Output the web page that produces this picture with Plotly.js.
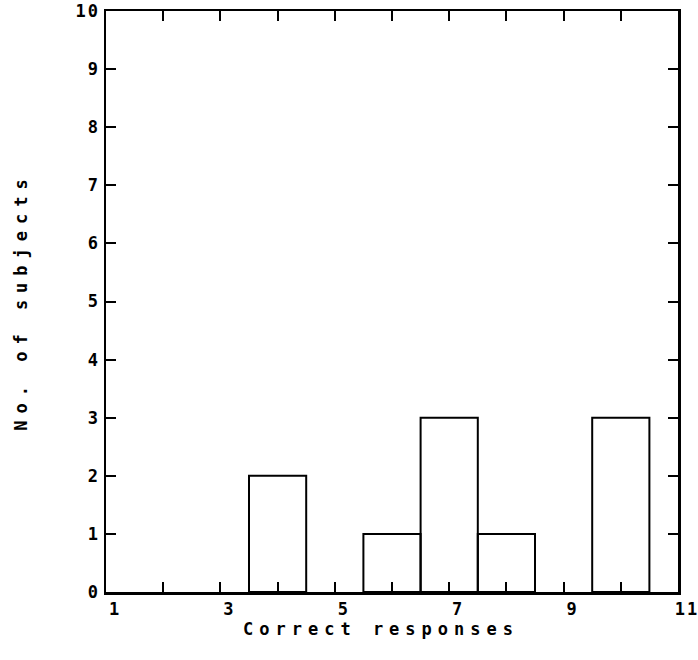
<!DOCTYPE html>
<html>
<head>
<meta charset="utf-8">
<script src="https://cdn.plot.ly/plotly-3.0.1.min.js"></script>
<style>
  html, body { margin: 0; padding: 0; background: #fff; }
  #chart { width: 698px; height: 660px; }
  .xtitle { letter-spacing: 6px; transform: translateX(-11px); }
  .ytitle { letter-spacing: 7px; }
  .xtick text, .ytick text { letter-spacing: 2px; }
</style>
</head>
<body>
<div id="chart"></div>
<script>
// Data
const correctResponses = [4, 6, 7, 8, 10];
const numSubjects = [2, 1, 3, 1, 3];
const xTickVals = [1, 2, 3, 4, 5, 6, 7, 8, 9, 10, 11];
const xTickText = ['1', '', '3', '', '5', '', '7', '', '9', '', '11'];
const yTickVals = [0, 1, 2, 3, 4, 5, 6, 7, 8, 9, 10];
const yTickText = ['0', '1', '2', '3', '4', '5', '6', '7', '8', '9', '10'];
const xTitle = 'Correct responses';
const yTitle = 'No. of subjects';

const fam = 'DejaVu Sans Mono, monospace';

const trace = {
  type: 'bar',
  x: correctResponses,
  y: numSubjects,
  width: 1,
  marker: { color: 'rgba(255,255,255,0)', line: { color: '#000', width: 2 } },
  hoverinfo: 'skip'
};

const axisCommon = {
  tickmode: 'array',
  ticks: 'inside',
  ticklen: 10,
  tickwidth: 2,
  tickcolor: '#000',
  showline: true,
  linewidth: 2.5,
  linecolor: '#000',
  mirror: 'ticks',
  showgrid: false,
  zeroline: false,
  automargin: false,
  tickfont: { family: fam, size: 17, color: '#000', weight: 'bold' }
};

const layout = {
  width: 698,
  height: 660,
  margin: { l: 106, r: 20, t: 11, b: 68 },
  paper_bgcolor: '#fff',
  plot_bgcolor: '#fff',
  showlegend: false,
  bargap: 0,
  font: { family: fam, size: 16, color: '#000', weight: 'bold' },
  xaxis: Object.assign({}, axisCommon, {
    range: [1, 11],
    tickvals: xTickVals,
    ticktext: xTickText,
    ticklabelshift: 9,
    ticklabeloverflow: 'allow',
    title: { text: xTitle, standoff: 1, font: { family: fam, size: 17, color: '#000', weight: 'bold' } }
  }),
  yaxis: Object.assign({}, axisCommon, {
    range: [0, 10],
    tickvals: yTickVals,
    ticktext: yTickText,
    title: { text: yTitle, standoff: 44, font: { family: fam, size: 17, color: '#000', weight: 'bold' } }
  })
};

Plotly.newPlot('chart', [trace], layout, { staticPlot: true, displayModeBar: false });
</script>
</body>
</html>
